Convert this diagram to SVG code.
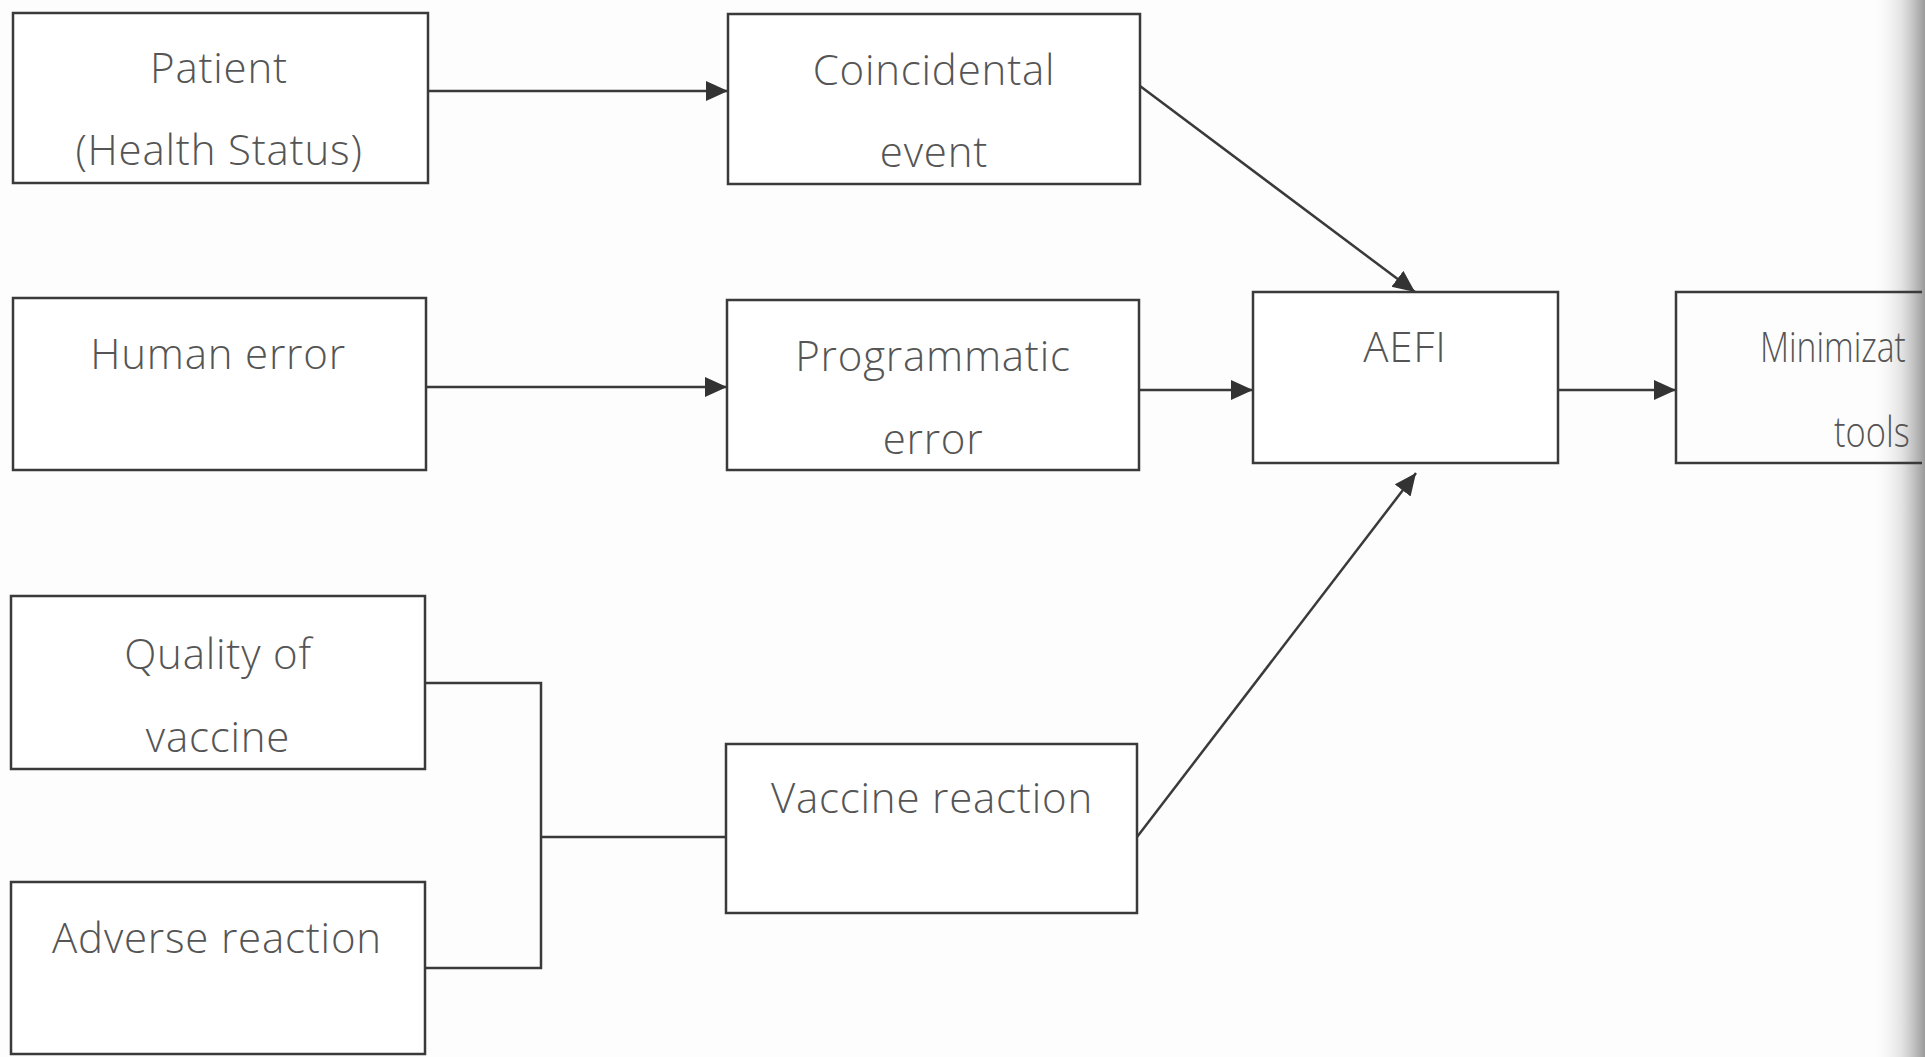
<svg xmlns="http://www.w3.org/2000/svg" width="1925" height="1057" viewBox="0 0 1925 1057">
  <defs>
    <style>
      .box { fill: #ffffff; stroke: #3a3a3a; stroke-width: 2.5; }
      .lbl { font-family: "Open Sans", "Noto Sans", "Liberation Sans", sans-serif; font-weight: 300; font-size: 42px; letter-spacing: 0.8px; fill: #555555; text-anchor: middle; }
      .lbl-start { text-anchor: start; letter-spacing: 0; }
      .conn { fill: none; stroke: #3a3a3a; stroke-width: 2.5; }
      .arrow { fill: none; stroke: #3a3a3a; stroke-width: 2.5; marker-end: url(#head); }
    </style>
    <marker id="head" markerUnits="userSpaceOnUse" markerWidth="24" markerHeight="22" refX="22" refY="10" orient="auto" viewBox="0 0 24 22">
      <path d="M0,0 L22,10 L0,20 Z" fill="#333333"/>
    </marker>
    <linearGradient id="edge" x1="0" y1="0" x2="1" y2="0">
      <stop offset="0" stop-color="#ffffff" stop-opacity="0"/>
      <stop offset="0.6" stop-color="#d8d8d8" stop-opacity="0.8"/>
      <stop offset="1" stop-color="#9a9a9a" stop-opacity="1"/>
    </linearGradient>
  </defs>

  <rect x="0" y="0" width="1925" height="1057" fill="#fdfdfd"/>
  <rect x="1870" y="0" width="55" height="1057" fill="url(#edge)"/>

  <g id="connectors">
    <line class="arrow" x1="428" y1="91" x2="728" y2="91"/>
    <line class="arrow" x1="427" y1="387" x2="727" y2="387"/>
    <line class="arrow" x1="1139" y1="390" x2="1253" y2="390"/>
    <line class="arrow" x1="1558" y1="390" x2="1676" y2="390"/>
    <line class="arrow" x1="1140" y1="86" x2="1415" y2="292"/>
    <line class="arrow" x1="1137" y1="837" x2="1416" y2="473"/>
    <polyline class="conn" points="425,683 541,683 541,968 425,968"/>
    <line class="conn" x1="541" y1="837" x2="726" y2="837"/>
  </g>

  <g id="patient">
    <rect class="box" x="13" y="13" width="415" height="170"/>
    <text class="lbl" x="219" y="83">Patient</text>
    <text class="lbl" x="219" y="165">(Health Status)</text>
  </g>

  <g id="coincidental">
    <rect class="box" x="728" y="14" width="412" height="170"/>
    <text class="lbl" x="934" y="85">Coincidental</text>
    <text class="lbl" x="934" y="167">event</text>
  </g>

  <g id="human-error">
    <rect class="box" x="13" y="298" width="413" height="172"/>
    <text class="lbl" x="218" y="369">Human error</text>
  </g>

  <g id="programmatic">
    <rect class="box" x="727" y="300" width="412" height="170"/>
    <text class="lbl" x="933" y="371">Programmatic</text>
    <text class="lbl" x="933" y="454">error</text>
  </g>

  <g id="aefi">
    <rect class="box" x="1253" y="292" width="305" height="171"/>
    <text class="lbl" x="1405" y="362">AEFI</text>
  </g>

  <g id="minimization">
    <path d="M1922,292 L1676,292 L1676,463 L1922,463" fill="none" stroke="#3a3a3a" stroke-width="2.5"/>
    <text class="lbl lbl-start" transform="translate(1760,362) scale(0.8,1)" x="0" y="0">Minimizat</text>
    <text class="lbl lbl-start" transform="translate(1834,447) scale(0.82,1)" x="0" y="0">tools</text>
  </g>

  <g id="quality">
    <rect class="box" x="11" y="596" width="414" height="173"/>
    <text class="lbl" x="218" y="669">Quality of</text>
    <text class="lbl" x="218" y="752">vaccine</text>
  </g>

  <g id="adverse">
    <rect class="box" x="11" y="882" width="414" height="172"/>
    <text class="lbl" x="217" y="953">Adverse reaction</text>
  </g>

  <g id="vaccine-reaction">
    <rect class="box" x="726" y="744" width="411" height="169"/>
    <text class="lbl" x="932" y="813">Vaccine reaction</text>
  </g>
</svg>
